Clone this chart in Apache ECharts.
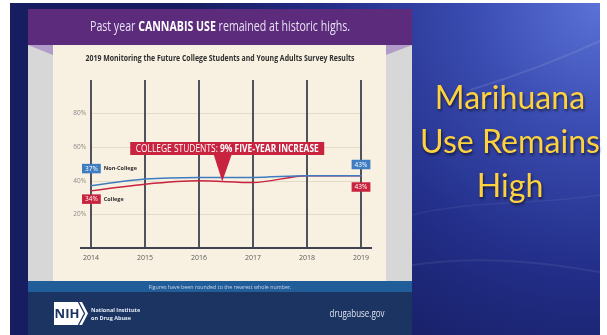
<!DOCTYPE html>
<html>
<head>
<meta charset="utf-8">
<script src="https://cdn.jsdelivr.net/npm/echarts@6/dist/echarts.min.js"></script>
<style>
  html, body { margin: 0; padding: 0; background: #ffffff; }
  #c { width: 607px; height: 335px; }
</style>
</head>
<body>
<div id="c"></div>
<script>
// Past-year cannabis use (%), Monitoring the Future panel survey
const years = ['2014', '2015', '2016', '2017', '2018', '2019'];
const nonCollege = [37, 41, 42, 42, 43, 43];
const college = [34, 38, 40, 39, 43, 43];
const yTicks = [20, 40, 60, 80];

const SANS = "'Open Sans', 'Noto Sans', sans-serif";
const BLUE = '#3d7cc0';
const RED = '#c8233f';

const measureCtx = document.createElement('canvas').getContext('2d');
function textWidth(str, size, weight, family) {
  measureCtx.font = (weight || 'normal') + ' ' + size + 'px ' + (family || SANS);
  return measureCtx.measureText(str).width;
}

const chart = echarts.init(document.getElementById('c'), null, { renderer: 'canvas' });

function tagRich(color) {
  return {
    v: { backgroundColor: color, color: '#ffffff', fontSize: 6.5, fontFamily: SANS,
         padding: [1.5, 3, 1, 3], verticalAlign: 'middle' },
    n: { color: '#2b2b2b', fontSize: 5.5, fontWeight: 'bold', fontFamily: SANS,
         padding: [0, 0, 0, 3], verticalAlign: 'middle' }
  };
}

function withTags(values, color, name, firstPos, firstDist, lastPos, lastDist) {
  const last = values.length - 1;
  return values.map(function (v, i) {
    if (i === 0) {
      return { value: v, label: {
        show: true, position: firstPos, distance: firstDist, align: 'left', offset: [-9, 0],
        formatter: function (p) { return '{v|' + p.value + '%}{n|' + name + '}'; },
        rich: tagRich(color)
      } };
    }
    if (i === last) {
      return { value: v, label: {
        show: true, position: lastPos, distance: lastDist,
        formatter: function (p) { return '{v|' + p.value + '%}'; },
        rich: tagRich(color)
      } };
    }
    return v;
  });
}

chart.setOption({
  animation: false,
  grid: { left: 91, right: 246, top: 80, bottom: 87 },
  xAxis: {
    type: 'category',
    data: years,
    boundaryGap: false,
    axisLine: { show: false },
    axisTick: { show: false },
    axisLabel: { color: '#5a5a5a', fontSize: 7, margin: 6, fontFamily: SANS },
    splitLine: { show: true, lineStyle: { color: '#3d4150', width: 1.8 } }
  },
  yAxis: {
    type: 'value',
    min: 0,
    max: 100,
    interval: 20,
    axisLine: { show: false },
    axisTick: { show: false },
    axisLabel: {
      color: '#8a8a8a', fontSize: 6.5, margin: 5, fontFamily: SANS,
      formatter: function (v) { return yTicks.indexOf(v) >= 0 ? v + '%' : ''; }
    },
    splitLine: { show: true, showMinLine: false, showMaxLine: false,
                 lineStyle: { color: '#e3dac8', width: 1 } }
  },
  series: [
    {
      name: 'College',
      type: 'line',
      smooth: 0.3,
      symbol: 'circle',
      symbolSize: 1,
      itemStyle: { color: RED },
      lineStyle: { color: RED, width: 1.5 },
      data: withTags(college, RED, 'College', 'bottom', 3, 'bottom', 6),
      z: 3
    },
    {
      name: 'Non-College',
      type: 'line',
      smooth: 0.3,
      symbol: 'circle',
      symbolSize: 1,
      itemStyle: { color: BLUE },
      lineStyle: { color: BLUE, width: 1.5 },
      data: withTags(nonCollege, BLUE, 'Non-College', 'top', 12, 'top', 6),
      z: 4
    }
  ]
});

// pixel helpers from the chart's own scales
const xPix = function (i) { return chart.convertToPixel({ xAxisIndex: 0 }, years[i]); };
const yPix = function (v) { return chart.convertToPixel({ yAxisIndex: 0 }, v); };

// text that is squeezed horizontally to a target width
function fittedText(cx, cy, parts, size, targetW, z, extra) {
  let total = 0;
  let str = '';
  const rich = {};
  parts.forEach(function (p, k) {
    total += textWidth(p.t, size, p.w);
    rich['p' + k] = { fontSize: size, fontWeight: p.w || 'normal', fontFamily: SANS, fill: p.c, color: p.c };
    str += '{p' + k + '|' + p.t + '}';
  });
  return {
    type: 'group', x: cx, y: cy, scaleX: targetW / total, z: z,
    children: [{
      type: 'text', x: 0, y: 0, z: z,
      style: Object.assign({ text: str, rich: rich, align: 'center', verticalAlign: 'middle' }, extra || {})
    }]
  };
}

// annotation pointing at the college line between 2016 and 2017
const tipFrac = 0.43;
const tipX = xPix(2) + tipFrac * (xPix(3) - xPix(2));
const tipY = yPix(college[2] + tipFrac * (college[3] - college[2]));
const baseY = yPix(0);

const slideBg = new echarts.graphic.RadialGradient(1, 0, 1.25, [
  { offset: 0, color: '#5b72d6' },
  { offset: 0.3, color: '#3b4db2' },
  { offset: 0.65, color: '#222e88' },
  { offset: 1, color: '#161d60' }
]);

const headline = ['Marihuana', 'Use Remains', 'High'];
const hlSize = 31 * 180 / textWidth('Use Remains', 31, 'normal', 'Lato');

const graphics = [
  // slide background
  { type: 'rect', z: -20, shape: { x: 10, y: 3, width: 590, height: 332 }, style: { fill: slideBg } },
  { type: 'bezierCurve', z: -19, shape: { x1: 470, y1: 90, cpx1: 520, cpy1: 75, cpx2: 570, cpy2: 55, x2: 607, y2: 38 },
    style: { stroke: 'rgba(255,255,255,0.10)', lineWidth: 2, fill: null } },
  { type: 'bezierCurve', z: -19, shape: { x1: 412, y1: 265, cpx1: 480, cpy1: 255, cpx2: 540, cpy2: 262, x2: 600, y2: 272 },
    style: { stroke: 'rgba(255,255,255,0.07)', lineWidth: 2, fill: null } },
  { type: 'bezierCurve', z: -19, shape: { x1: 412, y1: 215, cpx1: 470, cpy1: 200, cpx2: 540, cpy2: 205, x2: 600, y2: 195 },
    style: { stroke: 'rgba(255,255,255,0.06)', lineWidth: 1.5, fill: null } },

  // infographic panel
  { type: 'rect', z: -18, shape: { x: 28, y: 9, width: 384, height: 36 }, style: { fill: '#5c2b7c' } },
  { type: 'rect', z: -18, shape: { x: 28, y: 45, width: 384, height: 236 }, style: { fill: '#d7d7d8' } },
  { type: 'rect', z: -17, shape: { x: 53, y: 45, width: 333, height: 236 }, style: { fill: '#f8f1e2' } },
  { type: 'polygon', z: -17, shape: { points: [[28, 45], [53, 45], [53, 55]] }, style: { fill: '#b39bc9' } },
  { type: 'polygon', z: -17, shape: { points: [[386, 45], [412, 45], [386, 55]] }, style: { fill: '#b39bc9' } },
  { type: 'rect', z: -18, shape: { x: 28, y: 281, width: 384, height: 11 }, style: { fill: '#215d99' } },
  { type: 'rect', z: -18, shape: { x: 28, y: 292, width: 384, height: 43 }, style: { fill: '#1b3462' } },

  fittedText(220, 27, [
    { t: 'Past year ', c: '#e9e2f2' },
    { t: 'CANNABIS USE', w: 'bold', c: '#ffffff' },
    { t: ' remained at historic highs.', c: '#e9e2f2' }
  ], 14, 260, 10),
  fittedText(220, 59, [
    { t: '2019 Monitoring the Future College Students and Young Adults Survey Results', w: 'bold', c: '#2e2e2e' }
  ], 8.5, 269, 10),

  // extended axis baseline
  { type: 'line', z: 5, shape: { x1: xPix(0) - 11, y1: baseY, x2: xPix(years.length - 1) + 11, y2: baseY },
    style: { stroke: '#3d4150', lineWidth: 2 } },

  // callout
  { type: 'rect', z: 20, shape: { x: tipX - 92, y: tipY - 39.5, width: 194, height: 13 }, style: { fill: RED } },
  { type: 'polygon', z: 20, shape: { points: [[tipX - 8.5, tipY - 27], [tipX + 9.5, tipY - 27], [tipX, tipY]] },
    style: { fill: RED } },
  fittedText(tipX + 5, tipY - 32.8, [
    { t: 'COLLEGE STUDENTS: ', c: '#ffffff' },
    { t: '9% FIVE-YEAR INCREASE', w: 'bold', c: '#ffffff' }
  ], 11, 183, 21),

  // footer
  fittedText(220, 287, [{ t: 'Figures have been rounded to the nearest whole number.', c: '#c9d7ea' }], 5.5, 143, 10),
  { type: 'polygon', z: 10, shape: { points: [[54, 302], [82, 302], [88, 313.5], [82, 325], [54, 325]] },
    style: { fill: '#ffffff' } },
  { type: 'polyline', z: 11, shape: { points: [[78.5, 302], [84.5, 313.5], [78.5, 325]] },
    style: { stroke: '#1b3462', lineWidth: 1.3, fill: null } },
  { type: 'text', z: 11, x: 67, y: 314, style: { text: 'NIH', fill: '#1b3462', font: 'bold 13px ' + SANS,
    align: 'center', verticalAlign: 'middle' } },
  { type: 'text', z: 11, x: 91, y: 310, style: { text: 'National Institute', fill: '#e4ebf5', font: 'bold 5.5px ' + SANS,
    align: 'left', verticalAlign: 'middle' } },
  { type: 'text', z: 11, x: 91, y: 318, style: { text: 'on Drug Abuse', fill: '#e4ebf5', font: 'bold 5.5px ' + SANS,
    align: 'left', verticalAlign: 'middle' } },
  fittedText(357, 313.5, [{ t: 'drugabuse.gov', c: '#dfe5f0' }], 11, 55, 11)
];

headline.forEach(function (line, k) {
  const cy = 99 + k * 44;
  graphics.push({
    type: 'text', z: 12, x: 510, y: cy,
    style: {
      text: line, fill: '#fdd23e', font: hlSize + 'px Lato, ' + SANS,
      align: 'center', verticalAlign: 'middle',
      textShadowColor: 'rgba(0,0,0,0.6)', textShadowBlur: 3, textShadowOffsetX: 1, textShadowOffsetY: 1.5
    }
  });
});

chart.setOption({ graphic: { elements: graphics } });
</script>
</body>
</html>
